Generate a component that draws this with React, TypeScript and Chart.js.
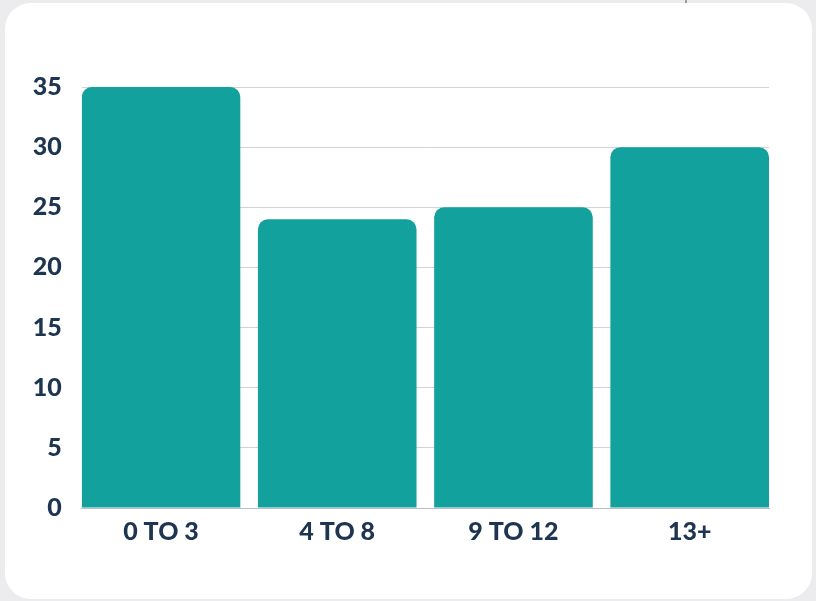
import React, { useEffect, useRef } from "react";
import { Chart, registerables } from "chart.js";

Chart.register(...registerables);

const categories = ["0 TO 3", "4 TO 8", "9 TO 12", "13+"];
const values = [35, 24, 25, 30];
const yTicks = [0, 5, 10, 15, 20, 25, 30, 35];

export default function App() {
  const ref = useRef<HTMLCanvasElement | null>(null);

  useEffect(() => {
    if (!ref.current) return;
    const chart = new Chart(ref.current, {
      type: "bar",
      data: {
        datasets: [
          {
            data: categories.map((c, i) => ({ x: i, y: values[i] })),
            backgroundColor: "#12a19d",
            borderWidth: 0,
            borderRadius: { topLeft: 10, topRight: 10, bottomLeft: 0, bottomRight: 0 },
            borderSkipped: false,
            categoryPercentage: 1,
            barPercentage: 0.9,
          },
        ],
      },
      options: {
        animation: false,
        responsive: false,
        maintainAspectRatio: false,
        layout: { padding: { top: 87, right: 47, bottom: 0, left: 0 } },
        plugins: { legend: { display: false }, tooltip: { enabled: false } },
        scales: {
          x: {
            type: "linear",
            offset: false,
            bounds: "ticks",
            min: -0.45,
            max: categories.length - 0.55,
            afterFit: (s: any) => {
              s.height = 93;
            },
            grid: { display: false, drawTicks: false, offset: false },
            border: { display: true, color: "#b9bdc5", width: 1 },
            ticks: {
              stepSize: 1,
              includeBounds: false,
              autoSkip: false,
              maxRotation: 0,
              padding: 9,
              color: "#1d3550",
              font: { family: "Lato", weight: "900", size: 25 },
              callback: (v: any) => (Number.isInteger(v) && categories[v] !== undefined ? categories[v] : ""),
            },
          },
          y: {
            min: yTicks[0],
            max: yTicks[yTicks.length - 1],
            afterFit: (s: any) => {
              s.width = 81.7;
            },
            grid: { color: "#cfd3da", lineWidth: 1, drawTicks: false },
            border: { display: false },
            ticks: {
              stepSize: 5,
              padding: 20,
              color: "#1d3550",
              font: { family: "Lato", weight: "900", size: 25 },
            },
          },
        },
      },
    } as any);
    return () => chart.destroy();
  }, []);

  return (
    <div
      style={{
        position: "fixed",
        left: 0,
        top: 0,
        width: 816,
        height: 601,
        background: "#ececee",
        overflow: "hidden",
      }}
    >
      <div
        style={{
          position: "absolute",
          left: 685,
          top: 0,
          width: 2,
          height: 4,
          background: "#9a9a9a",
        }}
      />
      <div
        style={{
          position: "absolute",
          left: 5,
          top: 3,
          width: 807,
          height: 596,
          background: "#ffffff",
          borderRadius: 26,
        }}
      />
      <canvas
        ref={ref}
        width={816}
        height={601}
        style={{ position: "absolute", left: 0, top: 0, width: 816, height: 601 }}
      />
    </div>
  );
}
